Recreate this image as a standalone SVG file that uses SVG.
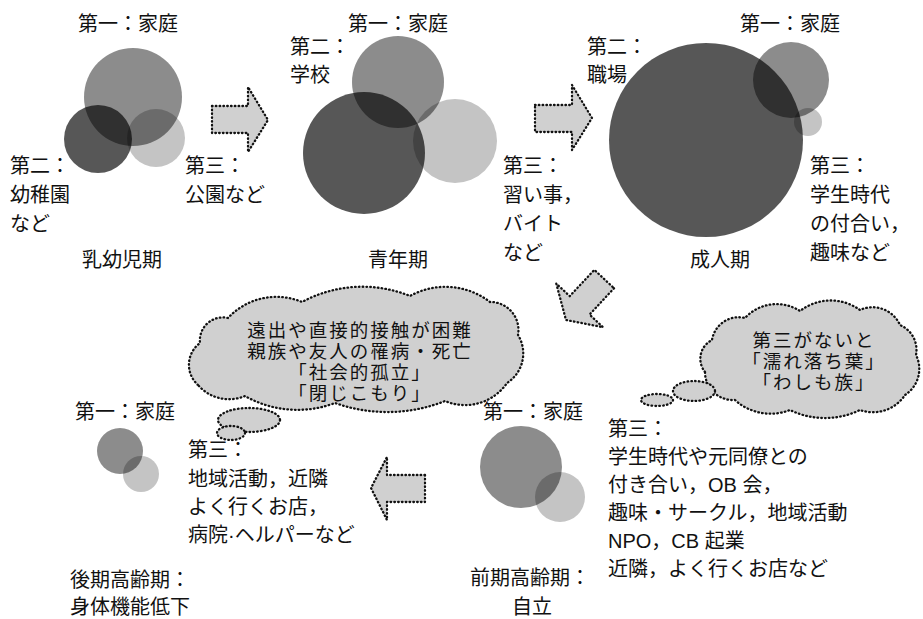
<svg xmlns="http://www.w3.org/2000/svg" width="923" height="619" viewBox="0 0 923 619">
<style>
text{font-family:"Liberation Sans","Noto Sans CJK JP",sans-serif;font-size:20px;fill:#111}
.cl{font-size:18.5px;letter-spacing:2px}
.mid{text-anchor:middle}
.c3{fill:#c4c4c4}
.c1{fill:#000;fill-opacity:0.45}
.c2{fill:#000;fill-opacity:0.66}
.dot{fill:#d0d0d0;stroke:#111;stroke-width:2.3;stroke-dasharray:0.6 3.2;stroke-linecap:round;stroke-linejoin:round}
</style>
<rect width="923" height="619" fill="#fff"/>

<g id="connectors">
  <path class="dot" d="M212,106 H248 V87 L268,120 L248,152 V133 H212 Z"/>
  <path class="dot" d="M535,105 H572 V85 L592,118 L572,150 V132 H535 Z"/>
  <path class="dot" transform="translate(566,320) rotate(133)" d="M-56,-13.5 H-20 V-32 L0,0 L-20,32 V13.5 H-56 Z"/>
  <path class="dot" d="M425,475 H387 V457 L371,488 L387,520 V502 H425 Z"/>
</g>

<g id="stage1">
  <circle class="c3" cx="156" cy="138" r="29"/>
  <circle class="c1" cx="133" cy="97" r="49"/>
  <circle class="c2" cx="98" cy="139" r="34"/>
  <text x="78" y="31">第一：家庭</text>
  <text x="10" y="173">第二：</text>
  <text x="10" y="202">幼稚園</text>
  <text x="10" y="231">など</text>
  <text x="185" y="173">第三：</text>
  <text x="185" y="202">公園など</text>
  <text x="82" y="267">乳幼児期</text>
</g>

<g id="stage2">
  <circle class="c3" cx="455" cy="141" r="42"/>
  <circle class="c1" cx="398" cy="82" r="46"/>
  <circle class="c2" cx="364" cy="153" r="61"/>
  <text x="348" y="31">第一：家庭</text>
  <text x="290" y="54">第二：</text>
  <text x="290" y="82">学校</text>
  <text x="503" y="173">第三：</text>
  <text x="503" y="202">習い事，</text>
  <text x="503" y="231">バイト</text>
  <text x="503" y="260">など</text>
  <text x="368" y="267">青年期</text>
</g>

<g id="stage3">
  <circle class="c3" cx="808" cy="122" r="14"/>
  <circle class="c1" cx="791" cy="80" r="38"/>
  <circle class="c2" cx="706" cy="140" r="97"/>
  <text x="740" y="31">第一：家庭</text>
  <text x="587" y="54">第二：</text>
  <text x="587" y="82">職場</text>
  <text x="810" y="173">第三：</text>
  <text x="810" y="202">学生時代</text>
  <text x="810" y="231">の付合い，</text>
  <text x="810" y="260">趣味など</text>
  <text x="690" y="267">成人期</text>
</g>

<g id="cloud1">
  <path class="dot" d="M198,385 A27,27 0 0 1 200,343 A23,23 0 0 1 228,318 A66,66 0 0 1 302,302 A127,127 0 0 1 410,296 A73,73 0 0 1 490,302 A28,28 0 0 1 518,335 A35,35 0 0 1 507,383 A51,51 0 0 1 445,401 A156,156 0 0 1 335,403 A106,106 0 0 1 245,396 A41,41 0 0 1 198,385 Z"/>
  <ellipse class="dot" cx="249" cy="420" rx="31" ry="12"/>
  <ellipse class="dot" cx="231" cy="433" rx="14" ry="7"/>
  <text class="cl mid" x="360" y="337">遠出や直接的接触が困難</text>
  <text class="cl mid" x="360" y="358">親族や友人の罹病・死亡</text>
  <text class="cl mid" x="360" y="379">「社会的孤立」</text>
  <text class="cl mid" x="360" y="400">「閉じこもり」</text>
</g>

<g id="cloud2">
  <path class="dot" d="M705,372 A21,21 0 0 1 712,340 A27,27 0 0 1 745,318 A43,43 0 0 1 800,311 A50,50 0 0 1 860,310 A30,30 0 0 1 900,325 A27,27 0 0 1 916,355 A31,31 0 0 1 905,395 A38.5,38.5 0 0 1 860,410 A80,80 0 0 1 790,410 A53,53 0 0 1 735,400 A28,28 0 0 1 705,372 Z"/>
  <ellipse class="dot" cx="694" cy="391" rx="21" ry="10"/>
  <ellipse class="dot" cx="657" cy="400" rx="16" ry="6"/>
  <text class="cl mid" x="814" y="347">第三がないと</text>
  <text class="cl mid" x="814" y="368">「濡れ落ち葉」</text>
  <text class="cl mid" x="814" y="389">「わしも族」</text>
</g>

<g id="stage4">
  <circle class="c3" cx="560" cy="497" r="25"/>
  <circle class="c1" cx="521" cy="467" r="41"/>
  <text x="483" y="419">第一：家庭</text>
  <text x="608" y="436">第三：</text>
  <text x="608" y="464">学生時代や元同僚との</text>
  <text x="608" y="492">付き合い，OB 会，</text>
  <text x="608" y="520">趣味・サークル，地域活動</text>
  <text x="608" y="548">NPO，CB 起業</text>
  <text x="608" y="576">近隣，よく行くお店など</text>
  <text x="470" y="585">前期高齢期：</text>
  <text x="512" y="614">自立</text>
</g>

<g id="stage5">
  <circle class="c3" cx="141" cy="474" r="18"/>
  <circle class="c1" cx="120" cy="451" r="23"/>
  <text x="75" y="419">第一：家庭</text>
  <text x="188" y="457">第三：</text>
  <text x="188" y="486">地域活動，近隣</text>
  <text x="188" y="514">よく行くお店，</text>
  <text x="188" y="542">病院·ヘルパーなど</text>
  <text x="70" y="587">後期高齢期：</text>
  <text x="70" y="614">身体機能低下</text>
</g>
</svg>
